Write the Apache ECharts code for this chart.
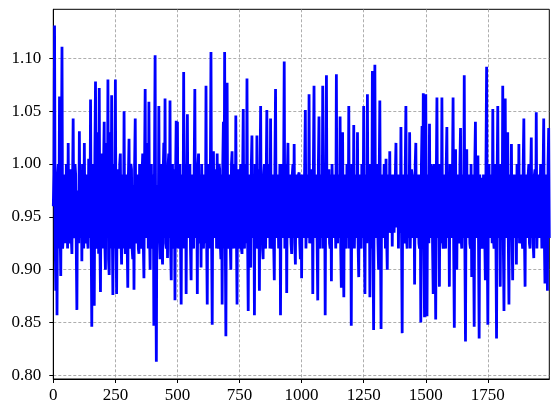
<!DOCTYPE html>
<html><head><meta charset="utf-8">
<script src="https://cdn.jsdelivr.net/npm/echarts@6/dist/echarts.min.js"></script>
<style>html,body{margin:0;padding:0;background:#fff}#c{width:559px;height:416px}</style>
</head><body><div id="c"></div>
<script>
// sample spacing along x (index units per stored value)
const sampleStep = 2.5;
// series values (one value every 2.5 samples)
const values = [
0.96,0.99,1.131,0.93,0.88,0.97,0.857,0.99,1.0,0.92,1.064,0.94,0.894,1.0,1.111,0.92,0.93,0.985,0.99,0.925,
0.94,1.0,0.98,0.92,1.020,0.93,0.925,0.99,0.995,0.93,0.915,0.98,1.043,0.935,0.93,1.0,0.99,0.92,0.862,0.975,
0.97,0.925,1.031,0.94,0.93,0.99,0.908,1.0,0.99,0.92,1.020,0.935,0.925,0.99,0.985,0.93,0.92,1.005,1.0,0.93,
1.061,0.93,0.846,0.99,1.0,0.92,0.866,1.01,1.078,0.93,0.92,0.995,1.03,0.915,1.072,0.93,0.879,1.0,1.01,0.92,
0.92,1.0,1.04,0.925,0.90,0.99,1.02,0.93,1.080,0.91,0.895,1.01,1.03,0.92,1.065,0.94,0.876,0.99,1.0,0.92,
1.080,0.93,0.877,0.99,0.995,0.925,0.92,1.0,1.01,0.93,0.905,0.985,0.99,0.92,1.050,0.935,0.915,0.99,0.99,0.925,
0.883,0.99,1.024,0.93,0.92,1.0,0.995,0.92,0.91,0.98,0.881,1.0,1.043,0.93,0.925,0.99,0.99,0.92,0.915,1.0,
1.0,0.93,0.92,0.99,1.01,0.925,0.892,1.0,1.071,0.93,0.93,0.99,1.02,0.92,1.059,0.935,0.90,0.99,1.0,0.92,
0.93,0.99,0.847,1.0,1.103,0.92,0.813,0.98,0.98,0.925,1.055,0.93,0.91,1.0,1.0,0.92,0.905,0.99,1.02,0.93,
1.062,0.925,0.92,0.99,0.911,1.0,1.01,0.93,1.060,0.92,0.890,0.99,1.0,0.93,0.92,0.995,0.871,0.99,1.041,0.93,
1.04,0.92,0.93,0.99,1.0,0.925,0.867,0.99,0.99,0.93,1.087,0.92,0.92,1.0,0.877,0.99,1.047,0.93,0.93,0.995,
1.0,0.92,0.890,0.99,0.99,0.93,0.92,1.0,1.071,0.93,0.93,0.99,0.877,1.0,1.010,0.925,0.93,0.99,0.902,1.0,
1.0,0.93,0.92,0.99,0.99,0.925,1.074,0.93,0.867,0.995,1.0,0.92,0.92,0.99,1.106,0.93,0.848,0.99,1.012,0.93,
0.93,0.99,0.995,0.92,1.01,0.93,0.92,1.0,0.995,0.925,0.91,0.99,0.867,1.0,1.04,0.92,1.106,0.93,0.837,0.99,
1.077,0.93,0.92,0.99,0.99,0.925,0.90,1.0,1.012,0.93,0.92,0.99,1.0,0.92,1.046,0.935,0.867,0.99,0.995,0.92,
0.93,0.99,1.0,0.92,0.915,0.99,1.052,0.93,0.92,1.0,0.99,0.925,1.081,0.93,0.861,0.99,0.99,0.93,0.902,1.0,
1.027,0.93,0.93,0.99,0.857,1.0,0.99,0.92,1.027,0.93,0.92,0.995,0.880,0.99,1.055,0.93,0.98,0.92,0.91,0.99,
1.0,0.925,0.92,0.99,1.051,0.93,0.93,1.0,0.99,0.92,1.043,0.93,0.92,0.99,0.99,0.925,0.890,1.0,1.071,0.93,
0.93,0.99,0.99,0.92,0.92,1.0,0.857,0.99,1.0,0.93,0.93,0.99,1.097,0.92,0.93,1.0,0.878,0.99,1.02,0.93,
0.93,0.99,0.99,0.925,0.915,0.99,1.0,0.93,1.019,0.925,0.905,0.99,0.985,0.93,0.93,0.99,0.992,0.925,0.91,0.99,
0.892,0.99,0.99,0.93,0.93,1.0,1.051,0.92,0.92,0.99,0.985,0.93,1.066,0.925,0.93,0.99,0.93,0.995,0.877,1.0,
1.074,0.93,0.93,0.99,0.99,0.925,0.871,1.0,1.045,0.93,0.92,0.99,0.99,0.93,1.074,0.92,0.93,0.99,0.857,1.0,
1.084,0.93,0.93,0.99,0.995,0.925,0.92,0.99,0.889,1.0,1.0,0.93,0.93,0.99,0.99,0.92,1.085,0.93,0.925,0.99,
0.99,0.93,1.045,0.92,0.883,1.0,1.03,0.93,0.874,0.99,0.99,0.925,0.92,1.0,0.995,0.93,1.055,0.92,0.93,0.99,
0.847,1.0,0.99,0.93,1.037,0.92,0.92,0.99,0.99,0.93,1.03,0.925,0.893,0.99,0.99,0.93,0.92,1.0,1.0,0.93,
1.055,0.93,0.877,0.99,0.99,0.925,1.066,0.93,0.93,1.0,0.874,0.99,1.0,0.92,1.088,0.93,0.843,0.99,1.094,0.93,
0.93,0.99,1.0,0.925,0.90,0.99,1.06,0.93,0.844,0.99,0.99,0.93,0.93,1.0,0.99,0.92,1.005,0.93,0.90,0.99,
0.985,0.935,1.012,0.94,0.935,0.99,0.922,0.985,0.99,0.935,0.935,0.99,1.02,0.94,0.94,0.99,0.92,0.985,0.985,0.935,
1.035,0.93,0.840,0.99,0.99,0.925,0.93,1.0,1.055,0.93,0.92,0.99,0.99,0.93,1.03,0.92,0.92,0.995,0.99,0.93,
0.93,0.99,0.886,1.0,1.02,0.93,0.93,0.99,0.99,0.925,0.92,0.99,0.850,1.0,1.036,0.93,1.067,0.92,0.855,0.99,
1.066,0.93,0.856,0.99,0.99,0.925,1.038,0.93,0.93,1.0,0.99,0.92,0.877,0.99,1.0,0.93,0.853,0.99,1.063,0.93,
0.93,0.99,0.884,1.0,0.99,0.925,1.063,0.93,0.92,0.99,0.99,0.93,0.92,1.0,1.035,0.93,0.93,0.99,0.884,1.0,
0.99,0.93,0.93,0.99,1.063,0.92,0.845,0.99,1.014,0.93,0.90,0.99,0.99,0.925,0.93,1.0,1.034,0.93,0.92,0.99,
0.99,0.93,1.084,0.92,0.832,0.99,1.014,0.93,0.93,0.99,0.99,0.925,0.92,1.0,0.893,0.99,0.99,0.93,0.846,1.0,
1.04,0.93,0.93,0.99,1.008,0.925,0.835,0.99,0.99,0.93,0.987,0.92,0.93,0.99,0.985,0.93,0.890,1.0,1.092,0.93,
0.848,0.99,1.0,0.93,0.93,0.99,0.99,0.925,1.052,0.93,0.92,1.0,0.99,0.93,0.835,0.99,1.055,0.93,0.93,0.99,
0.884,1.0,0.99,0.93,1.074,0.92,0.861,0.99,1.062,0.93,0.93,0.99,1.03,0.925,0.867,0.99,0.99,0.93,1.019,0.93,
0.890,0.99,0.99,0.93,0.93,0.99,0.905,1.0,0.99,0.93,1.019,0.925,0.93,0.99,0.99,0.93,0.92,1.0,1.043,0.93,
0.884,0.99,0.99,0.93,0.93,0.99,1.0,0.925,0.92,0.99,1.025,0.93,0.99,0.925,0.911,0.99,0.995,0.93,1.049,0.92,
0.92,0.99,0.99,0.93,0.93,1.0,1.0,0.92,0.92,0.99,1.043,0.93,0.887,0.99,0.99,0.93,0.880,1.0,1.034,0.93
];
const xTicks = [0,250,500,750,1000,1250,1500,1750];
const yTicks = [0.80,0.85,0.90,0.95,1.00,1.05,1.10];
const xRange = [0, 1997.5];
const yRange = [0.7966, 1.1464];

const seriesData = values.map((v,i)=>[i*sampleStep, v]);
const font = 'Liberation Serif';
const chart = echarts.init(document.getElementById('c'), null, {renderer:'canvas'});
chart.setOption({
  animation:false,
  backgroundColor:'#fff',
  grid:{left:53.3,right:9.7,top:9.3,bottom:37,show:true,borderColor:'#000',borderWidth:1,backgroundColor:'transparent'},
  xAxis:{type:'value',min:xRange[0],max:xRange[1],interval:250,
    axisLine:{show:true,lineStyle:{color:'#000',width:1}},
    axisTick:{show:true,length:4,lineStyle:{color:'#000'},customValues:xTicks},
    axisLabel:{color:'#000',fontFamily:font,fontSize:17,margin:8,customValues:xTicks,formatter:v=>String(v)},
    splitLine:{show:true,lineStyle:{color:'#999',type:[3,2],width:0.8}}},
  yAxis:{type:'value',min:yRange[0],max:yRange[1],
    axisLine:{show:true,lineStyle:{color:'#000',width:1}},
    axisTick:{show:true,length:4,lineStyle:{color:'#000'},customValues:yTicks},
    axisLabel:{color:'#000',fontFamily:font,fontSize:17,margin:12,customValues:yTicks,formatter:v=>v.toFixed(2)},
    splitLine:{show:true,lineStyle:{color:'#999',type:[3,2],width:0.8}}},
  series:[{type:'line',data:seriesData,showSymbol:false,symbol:'none',
    lineStyle:{color:'#0000ff',width:2.8},clip:true}]
});
</script></body></html>
